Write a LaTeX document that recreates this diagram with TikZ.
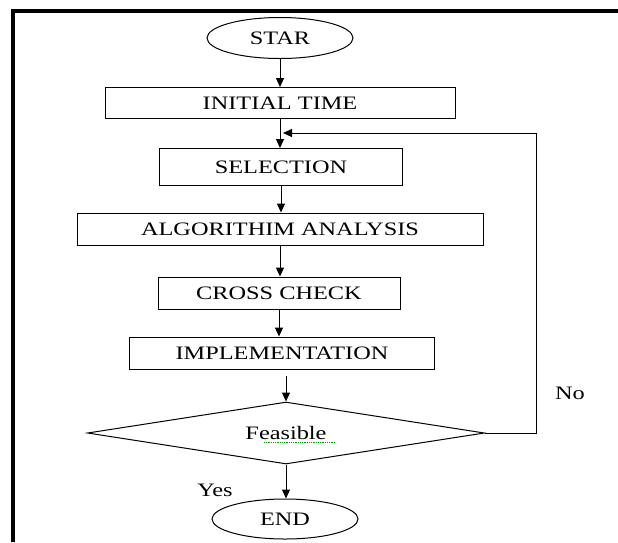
\documentclass[tikz,border=0pt]{standalone}
\usepackage{fontspec}
\setmainfont{Liberation Serif}[FakeStretch=1.28]
\usetikzlibrary{shapes.geometric,arrows.meta,positioning}
\tikzset{
  flowbox/.style={draw,rectangle,inner sep=0pt,line width=1pt},
  terminal/.style={draw,ellipse,minimum width=146pt,minimum height=41pt,inner sep=0pt,line width=1pt},
  decision/.style={draw,diamond,aspect=6.4,minimum width=397pt,minimum height=62pt,inner sep=0pt,line width=1pt},
  flowarrow/.style={-{Triangle[length=9pt,width=8pt]},line width=1pt},
  every node/.style={font=\fontsize{19}{22}\selectfont}
}
\begin{document}
\begin{tikzpicture}[x=1pt,y=-1pt]
  \useasboundingbox (0,0) rectangle (618,542);
  \draw[line width=4pt] (13,542) -- (13,11) -- (618,11);
  % flow
  \node[terminal] (star) at (280,38) {STAR};
  \node[flowbox,minimum width=350pt,minimum height=31pt] (init) at (280,103) {INITIAL TIME};
  \node[flowbox,minimum width=243pt,minimum height=37pt] (sel) at (281,167) {SELECTION};
  \node[flowbox,minimum width=406pt,minimum height=32pt] (algo) at (280,229) {ALGORITHIM ANALYSIS};
  \node[flowbox,minimum width=242pt,minimum height=32pt] (cross) at (279,293) {CROSS CHECK};
  \node[flowbox,minimum width=305pt,minimum height=32pt] (impl) at (282,353) {IMPLEMENTATION};
  \node[decision] (feas) at (286,433) {Feasible};
  \node[terminal,minimum height=40pt] (end) at (285,519) {END};
  \node (yes) at (215,490) {Yes};
  \node (no) at (570,393) {No};
  \coordinate (loopr) at (536,133);
  \coordinate (loopin) at (283,133);
  % arrows
  \draw[flowarrow] (star.south) -- (star.south |- init.north);
  \draw[flowarrow] (init.south) -- (init.south |- sel.north);
  \draw[flowarrow] (sel.south) -- (sel.south |- algo.north);
  \draw[flowarrow] (algo.south) -- (algo.south |- cross.north);
  \draw[flowarrow] (cross.south) -- (cross.south |- impl.north);
  \draw[flowarrow,shorten <=6pt] (feas.north |- impl.south) -- (feas.north);
  \draw[flowarrow] (feas.south) -- (feas.south |- end.north);
  \draw[flowarrow] (feas.east) -| (loopr) -- (loopin);
  % spell check mark
  \draw[green!60!black,densely dotted,line width=0.8pt] ([xshift=-22pt,yshift=-9pt]feas.center) -- ([xshift=49pt,yshift=-9pt]feas.center);
\end{tikzpicture}
\end{document}
